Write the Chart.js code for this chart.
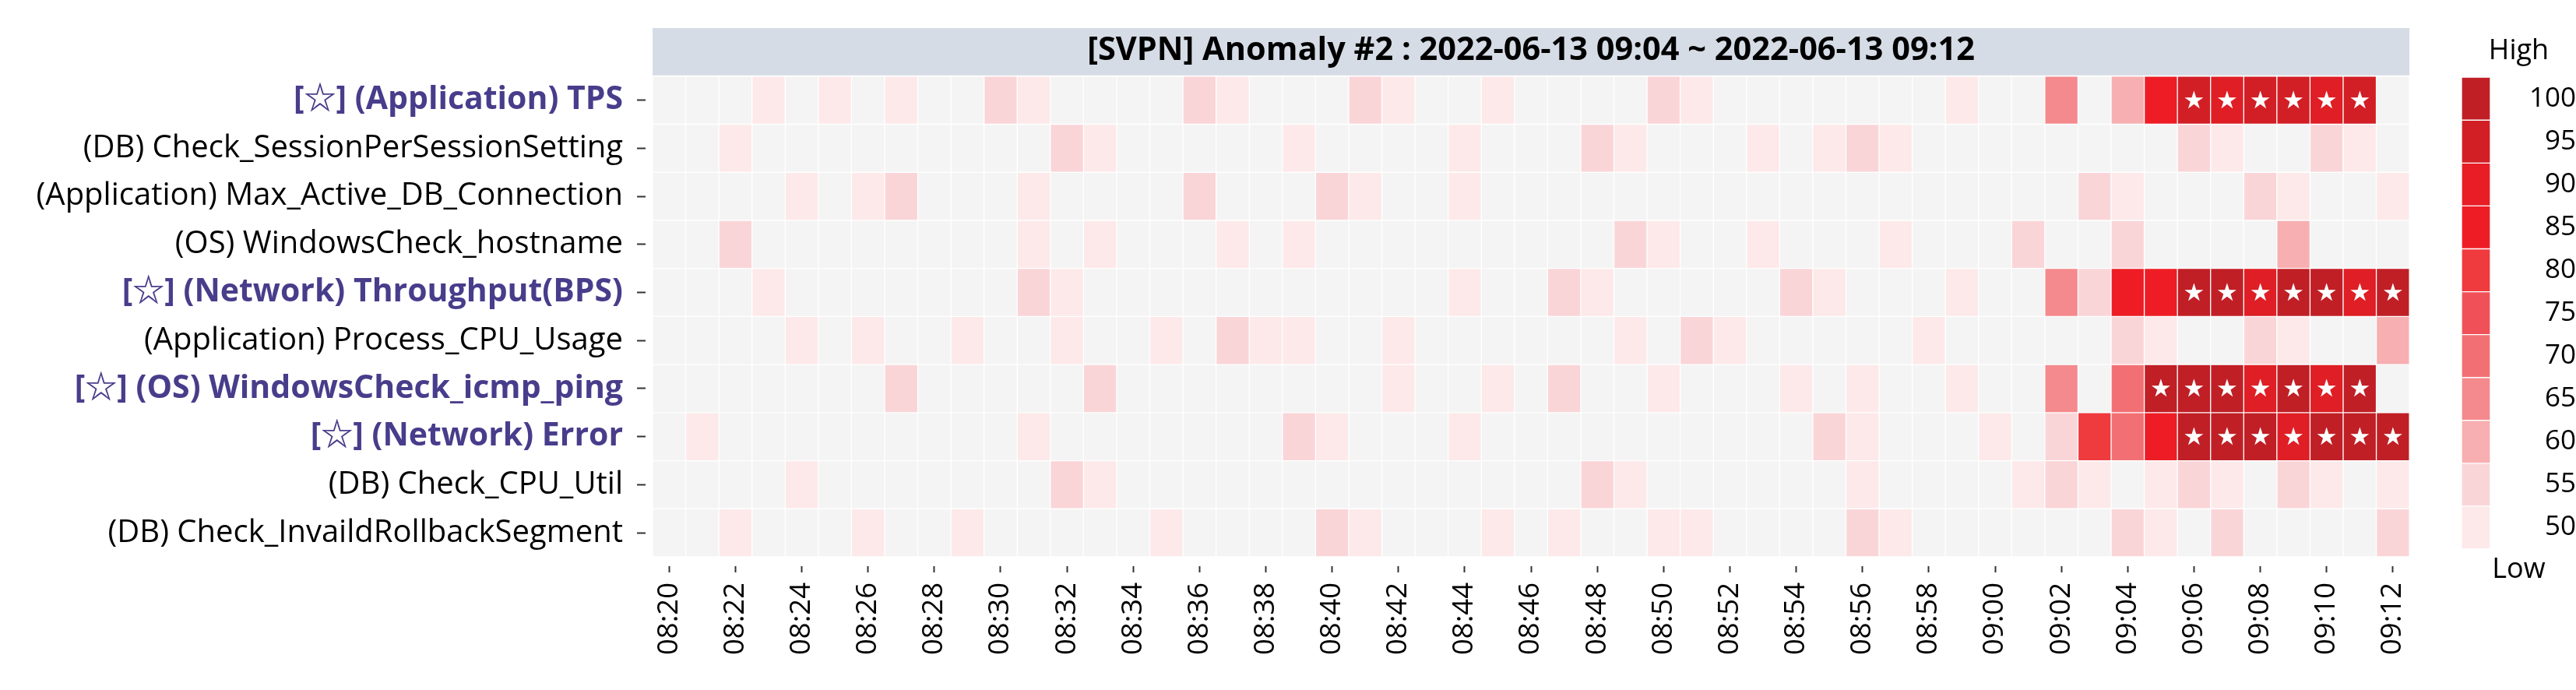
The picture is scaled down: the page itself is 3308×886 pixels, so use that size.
<!DOCTYPE html>
<html><head><meta charset="utf-8">
<script src="https://cdn.jsdelivr.net/npm/chart.js@4.4.1/dist/chart.umd.min.js"></script>
<style>
html,body{margin:0;padding:0;background:#fff;}
#wrap{position:relative;width:3308px;height:886px;overflow:hidden;}
#main{position:absolute;left:0;top:0;}
#bar{position:absolute;left:3130px;top:0;}
</style></head><body>
<div id="wrap"><canvas id="main" width="3130" height="886"></canvas><canvas id="bar" width="178" height="886"></canvas></div>
<script>
const titleText = '[SVPN] Anomaly #2 : 2022-06-13 09:04 ~ 2022-06-13 09:12';

const timeLabels = ['08:20','08:21','08:22','08:23','08:24','08:25','08:26','08:27','08:28','08:29',
  '08:30','08:31','08:32','08:33','08:34','08:35','08:36','08:37','08:38','08:39',
  '08:40','08:41','08:42','08:43','08:44','08:45','08:46','08:47','08:48','08:49',
  '08:50','08:51','08:52','08:53','08:54','08:55','08:56','08:57','08:58','08:59',
  '09:00','09:01','09:02','09:03','09:04','09:05','09:06','09:07','09:08','09:09',
  '09:10','09:11','09:12'];

const rowLabels = [
  '[☆] (Application) TPS',
  '(DB) Check_SessionPerSessionSetting',
  '(Application) Max_Active_DB_Connection',
  '(OS) WindowsCheck_hostname',
  '[☆] (Network) Throughput(BPS)',
  '(Application) Process_CPU_Usage',
  '[☆] (OS) WindowsCheck_icmp_ping',
  '[☆] (Network) Error',
  '(DB) Check_CPU_Util',
  '(DB) Check_InvaildRollbackSegment'
];

// anomaly scores per minute (40 = below the 50 floor of the scale)
const tps = [40,40,40,50,40,50,40,50,40,40, 55,50,40,40,40,40,55,50,40,40, 40,55,50,40,40,50,40,40,40,40, 55,50,40,40,40,40,40,40,40,50, 40,40,65,40,60,85,95,92,95,95, 92,95,40];
const sessionPerSession = [40,40,50,40,40,40,40,40,40,40, 40,40,55,50,40,40,40,40,40,50, 40,40,40,40,50,40,40,40,55,50, 40,40,40,50,40,50,55,50,40,40, 40,40,40,40,40,40,55,50,40,40, 55,50,40];
const maxActiveDb = [40,40,40,40,50,40,50,55,40,40, 40,50,40,40,40,40,55,40,40,40, 55,50,40,40,50,40,40,40,40,40, 40,40,40,40,40,40,40,40,40,40, 40,40,40,55,50,40,40,40,55,50, 40,40,50];
const hostname = [40,40,55,40,40,40,40,40,40,40, 40,50,40,50,40,40,40,50,40,50, 40,40,40,40,40,40,40,40,40,55, 50,40,40,50,40,40,40,50,40,40, 40,55,40,40,55,40,40,40,40,60, 40,40,40];
const throughput = [40,40,40,50,40,40,40,40,40,40, 40,55,50,40,40,40,40,40,40,40, 40,40,40,40,50,40,40,55,50,40, 40,40,40,40,55,50,40,40,40,50, 40,40,65,55,85,85,100,100,92,100, 100,92,100];
const processCpu = [40,40,40,40,50,40,50,40,40,50, 40,40,50,40,40,50,40,55,50,50, 40,40,50,40,40,40,40,40,40,50, 40,55,50,40,40,40,40,40,50,40, 40,40,40,40,55,50,40,40,55,50, 40,40,60];
const icmpPing = [40,40,40,40,40,40,40,55,40,40, 40,40,40,55,40,40,40,40,40,40, 40,40,50,40,40,50,40,55,40,40, 50,40,40,40,50,40,50,40,40,50, 40,40,65,40,70,100,100,100,92,100, 92,100,40];
const netError = [40,50,40,40,40,40,40,40,40,40, 40,50,40,40,40,40,40,40,40,55, 50,40,40,40,50,40,40,40,40,40, 40,40,40,40,40,55,50,40,40,40, 50,40,55,80,70,85,100,100,100,92, 100,100,100];
const cpuUtil = [40,40,40,40,50,40,40,40,40,40, 40,40,55,50,40,40,40,40,40,40, 40,40,40,40,40,40,40,40,55,50, 40,40,40,40,40,40,50,40,40,40, 40,50,55,50,40,50,55,50,40,55, 50,40,50];
const rollbackSeg = [40,40,50,40,40,40,50,40,40,50, 40,40,40,40,40,50,40,40,40,40, 55,50,40,40,40,50,40,50,40,40, 50,50,40,40,40,40,55,50,40,40, 40,40,40,40,55,50,40,55,40,40, 40,40,55];

const rowValues = [tps, sessionPerSession, maxActiveDb, hostname, throughput, processCpu, icmpPing, netError, cpuUtil, rollbackSeg];

// flagged anomaly cells (row index, first and last minute index)
const starRows = [0, 4, 6, 7];
const starFrom = [46, 46, 45, 46];
const starTo   = [51, 52, 51, 52];

const legendTicks  = [100, 95, 90, 85, 80, 75, 70, 65, 60, 55, 50];
const legendColors = ['#c01f26','#d21f26','#e81d25','#ee1d25','#ef3a3e','#f05158','#f27074','#f48a8d','#f7afb1','#fad5d8','#fde9ea'];
const belowColor = '#f4f4f4';

function hexToRgb(h){ return [parseInt(h.substr(1,2),16), parseInt(h.substr(3,2),16), parseInt(h.substr(5,2),16)]; }
function colorFor(v){
  if (v < 50) return belowColor;
  if (v >= 100) return legendColors[0];
  for (let i = legendTicks.length - 1; i > 0; i--) {
    const lo = legendTicks[i], hi = legendTicks[i-1];
    if (v >= lo && v <= hi) {
      const t = (v - lo) / (hi - lo);
      const a = hexToRgb(legendColors[i]), b = hexToRgb(legendColors[i-1]);
      const c = a.map((x, k) => Math.round(x + (b[k] - x) * t));
      return 'rgb(' + c.join(',') + ')';
    }
  }
  return belowColor;
}

const FONT = "'Open Sans', 'Noto Sans CJK KR', sans-serif";
const isStarLabel = i => rowLabels[i] && rowLabels[i].indexOf('[☆]') === 0;

const datasets = rowValues.map((vals, r) => ({
  label: rowLabels[r],
  data: vals.map((v, i) => ({ x: timeLabels[i], y: [r, r + 1], v: v })),
  backgroundColor: ctx => colorFor(ctx.raw ? ctx.raw.v : 0),
  borderColor: '#ffffff',
  borderWidth: 1,
  borderSkipped: false,
  barPercentage: 1,
  categoryPercentage: 1,
  grouped: false
}));

const stripPlugin = {
  id: 'strip',
  beforeDraw(chart) {
    const t = chart.titleBlock, a = chart.chartArea, ctx = chart.ctx;
    ctx.save();
    ctx.fillStyle = '#d6dce6';
    ctx.fillRect(a.left, t.top, a.right - a.left, a.top - t.top - 1);
    ctx.restore();
  }
};

const starPlugin = {
  id: 'stars',
  afterDatasetsDraw(chart) {
    const ctx = chart.ctx;
    ctx.save();
    ctx.fillStyle = '#ffffff';
    ctx.font = "31px 'DejaVu Sans'";
    ctx.textAlign = 'center';
    ctx.textBaseline = 'middle';
    starRows.forEach((r, k) => {
      const meta = chart.getDatasetMeta(r);
      for (let i = starFrom[k]; i <= starTo[k]; i++) {
        const p = meta.data[i].getCenterPoint();
        ctx.fillText('★', p.x, p.y + 2);
      }
    });
    ctx.restore();
  }
};

new Chart(document.getElementById('main'), {
  type: 'bar',
  data: { labels: timeLabels, datasets: datasets },
  plugins: [stripPlugin, starPlugin],
  options: {
    responsive: false, animation: false, events: [],
    layout: { padding: { top: 36, right: 27, bottom: 0, left: 0 } },
    plugins: {
      legend: { display: false },
      tooltip: { enabled: false },
      title: { display: true, text: titleText, fullSize: false, color: '#000',
               font: { family: FONT, size: 41.5, weight: 'bold' }, padding: { top: 4, bottom: 8 } }
    },
    scales: {
      x: {
        type: 'category', position: 'bottom', offset: true,
        grid: { display: true, offset: false, drawOnChartArea: false, drawTicks: true, tickLength: 20, tickWidth: 2,
                tickColor: ctx => (ctx.index % 2 === 0 ? '#333333' : 'rgba(0,0,0,0)'),
                tickBorderDash: [8, 12], tickBorderDashOffset: 8 },
        border: { display: false },
        ticks: { autoSkip: false, maxRotation: 90, minRotation: 90, padding: 13, color: '#000',
                 font: { family: FONT, size: 36.5 },
                 callback: (v, i) => (i % 2 === 0 ? timeLabels[i] : '') },
        afterFit: s => { s.height = 171; }
      },
      y: { type: 'linear', min: 0, max: 10, reverse: true, display: false },
      rows: {
        type: 'category', labels: rowLabels, position: 'left', offset: true,
        grid: { display: true, offset: false, drawOnChartArea: false, drawTicks: true, tickLength: 20, tickWidth: 2,
                tickColor: '#333333', tickBorderDash: [11, 9], tickBorderDashOffset: 0 },
        border: { display: false },
        ticks: { padding: 18, autoSkip: false,
                 color: ctx => (isStarLabel(ctx.index) ? '#483d8b' : '#000000'),
                 font: ctx => ({ family: FONT, size: isStarLabel(ctx.index) ? 41 : 40, weight: isStarLabel(ctx.index) ? 'bold' : 'normal' }) },
        afterFit: s => { s.width = 838; }
      }
    }
  }
});

const legendSets = legendTicks.map((t, i) => ({
  label: String(t),
  data: [{ x: 'scale', y: [i, i + 1] }],
  backgroundColor: legendColors[i],
  borderColor: '#ffffff', borderWidth: 1, borderSkipped: false,
  barPercentage: 1, categoryPercentage: 1, grouped: false
}));

new Chart(document.getElementById('bar'), {
  type: 'bar',
  data: { labels: ['scale'], datasets: legendSets },
  options: {
    responsive: false, animation: false, events: [],
    layout: { padding: { left: 31, right: 0, top: 0, bottom: 0 } },
    plugins: {
      legend: { display: false },
      tooltip: { enabled: false },
      title: { display: true, text: 'High', color: '#000', font: { family: FONT, size: 36, weight: 'normal' },
               padding: { top: 44, bottom: 12 } },
      subtitle: { display: true, text: 'Low', position: 'bottom', color: '#000',
                  font: { family: FONT, size: 36, weight: 'normal' }, padding: { top: 5, bottom: 132.8 } }
    },
    scales: {
      x: { display: false },
      y: { type: 'linear', min: 0, max: 11, reverse: true, display: false },
      lv: {
        type: 'category', labels: legendTicks.map(String), position: 'right', offset: true,
        grid: { display: false }, border: { display: false },
        ticks: { padding: 12, crossAlign: 'far', color: '#000', font: { family: FONT, size: 35 } },
        afterFit: s => { s.width = 110; }
      }
    }
  }
});
</script>
</body></html>
